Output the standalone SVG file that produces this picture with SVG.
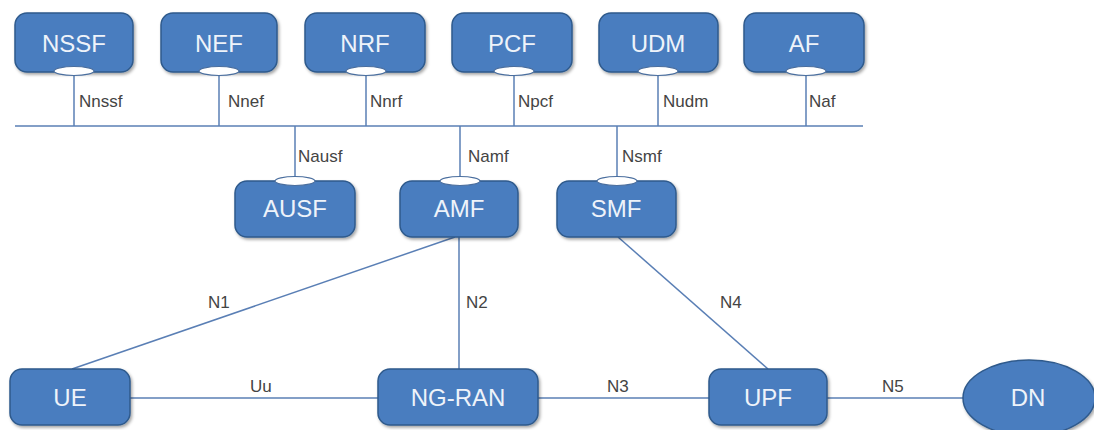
<svg xmlns="http://www.w3.org/2000/svg" width="1094" height="430" viewBox="0 0 1094 430">
<defs>
<filter id="sh" x="-10%" y="-10%" width="130%" height="140%">
<feDropShadow dx="1.5" dy="2" stdDeviation="1.5" flood-color="#000" flood-opacity="0.35"/>
</filter>
</defs>
<style>
.n{fill:#4a7dbf;stroke:#2f5a8c;stroke-width:1.5;filter:url(#sh)}
.t{font-family:"Liberation Sans",Arial,sans-serif;font-size:24px;fill:#eef3fa;text-anchor:middle}
.l{font-family:"Liberation Sans",Arial,sans-serif;font-size:17px;fill:#444}
.c{stroke:#5a7fb5;stroke-width:1.5;fill:none}
.p{fill:#fff;stroke:#4a6e9e;stroke-width:1.2}
</style>
<rect width="1094" height="430" fill="#fff"/>
<g id="connectors">
<line class="c" x1="15" y1="126" x2="863" y2="126"/>
<line class="c" x1="74" y1="72" x2="74" y2="126"/>
<line class="c" x1="219" y1="72" x2="219" y2="126"/>
<line class="c" x1="366" y1="72" x2="366" y2="126"/>
<line class="c" x1="514" y1="72" x2="514" y2="126"/>
<line class="c" x1="658" y1="72" x2="658" y2="126"/>
<line class="c" x1="806" y1="72" x2="806" y2="126"/>
<line class="c" x1="295" y1="126" x2="295" y2="181"/>
<line class="c" x1="460" y1="126" x2="460" y2="181"/>
<line class="c" x1="617" y1="126" x2="617" y2="181"/>
<line class="c" x1="455" y1="237" x2="72" y2="369"/>
<line class="c" x1="459" y1="237" x2="459" y2="369"/>
<line class="c" x1="618" y1="237" x2="768" y2="369"/>
<line class="c" x1="130" y1="398" x2="378" y2="398"/>
<line class="c" x1="538" y1="398" x2="709" y2="398"/>
<line class="c" x1="827" y1="398" x2="963" y2="398"/>
<text class="l" x="79" y="107">Nnssf</text>
<text class="l" x="228" y="107">Nnef</text>
<text class="l" x="370" y="107">Nnrf</text>
<text class="l" x="518" y="107">Npcf</text>
<text class="l" x="663" y="107">Nudm</text>
<text class="l" x="809" y="107">Naf</text>
<text class="l" x="298" y="162">Nausf</text>
<text class="l" x="468" y="162">Namf</text>
<text class="l" x="622" y="162">Nsmf</text>
<text class="l" x="208" y="308">N1</text>
<text class="l" x="466" y="308">N2</text>
<text class="l" x="720" y="308">N4</text>
<text class="l" x="250" y="392">Uu</text>
<text class="l" x="607" y="392">N3</text>
<text class="l" x="882" y="392">N5</text>
</g>
<g id="NSSF"><rect class="n" x="15" y="13" width="118" height="59" rx="12"/><text class="t" x="74" y="52">NSSF</text><ellipse class="p" cx="74" cy="71" rx="20" ry="4.5"/></g>
<g id="NEF"><rect class="n" x="161" y="13" width="116" height="59" rx="12"/><text class="t" x="219" y="52">NEF</text><ellipse class="p" cx="219" cy="71" rx="20" ry="4.5"/></g>
<g id="NRF"><rect class="n" x="305" y="13" width="120" height="59" rx="12"/><text class="t" x="365" y="52">NRF</text><ellipse class="p" cx="366" cy="71" rx="20" ry="4.5"/></g>
<g id="PCF"><rect class="n" x="452" y="13" width="120" height="59" rx="12"/><text class="t" x="512" y="52">PCF</text><ellipse class="p" cx="514" cy="71" rx="20" ry="4.5"/></g>
<g id="UDM"><rect class="n" x="599" y="13" width="119" height="59" rx="12"/><text class="t" x="658" y="52">UDM</text><ellipse class="p" cx="658" cy="71" rx="20" ry="4.5"/></g>
<g id="AF"><rect class="n" x="744" y="13" width="120" height="59" rx="12"/><text class="t" x="804" y="52">AF</text><ellipse class="p" cx="806" cy="71" rx="20" ry="4.5"/></g>
<g id="AUSF"><rect class="n" x="235" y="181" width="120" height="56" rx="12"/><text class="t" x="295" y="217">AUSF</text><ellipse class="p" cx="295" cy="181" rx="20" ry="4.5"/></g>
<g id="AMF"><rect class="n" x="400" y="181" width="118" height="56" rx="12"/><text class="t" x="459" y="217">AMF</text><ellipse class="p" cx="460" cy="181" rx="20" ry="4.5"/></g>
<g id="SMF"><rect class="n" x="557" y="181" width="119" height="56" rx="12"/><text class="t" x="616" y="217">SMF</text><ellipse class="p" cx="617" cy="181" rx="20" ry="4.5"/></g>
<g id="UE"><rect class="n" x="10" y="369" width="120" height="56" rx="12"/><text class="t" x="70" y="406">UE</text></g>
<g id="NG-RAN"><rect class="n" x="378" y="369" width="160" height="56" rx="12"/><text class="t" x="458" y="406">NG-RAN</text></g>
<g id="UPF"><rect class="n" x="709" y="369" width="118" height="56" rx="12"/><text class="t" x="768" y="406">UPF</text></g>
<g id="DN"><ellipse class="n" cx="1029" cy="398" rx="66" ry="38"/><text class="t" x="1028" y="406">DN</text></g>
</svg>
